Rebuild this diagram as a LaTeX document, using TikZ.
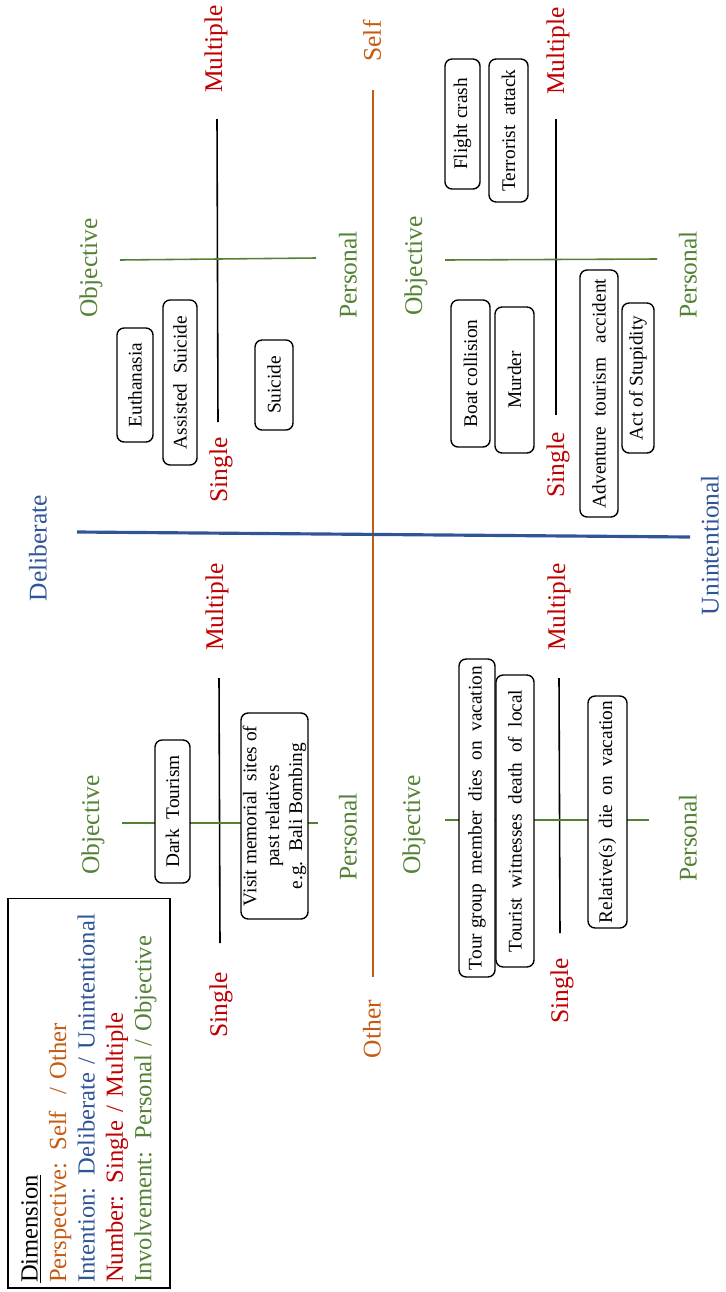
\documentclass[tikz,border=0pt]{standalone}
\usepackage{fontspec}
\setmainfont{Liberation Serif}
\usepackage{xcolor}
\usepackage{tikz}
\usetikzlibrary{positioning}
\definecolor{DimOrange}{RGB}{197, 90, 17}
\definecolor{DimBlue}{RGB}{47, 85, 151}
\definecolor{DimRed}{RGB}{192, 0, 0}
\definecolor{DimGreen}{RGB}{84, 130, 53}

\begin{document}
\begin{tikzpicture}[x=0.02cm, y=-0.02cm,
    axislabel/.style={rotate=90, inner sep=0pt, font=\fontsize{14.5}{16}\selectfont},
    numlabel/.style={axislabel, text=DimRed},
    invlabel/.style={axislabel, text=DimGreen},
    eventbox/.style={draw, fill=white, rounded corners=4pt, line width=0.8pt,
      rotate=90, inner sep=1pt, align=center, font=\fontsize{11}{13}\selectfont},
    numaxis/.style={line width=0.9pt, black},
    invaxis/.style={line width=0.9pt, DimGreen}]
    \useasboundingbox (0,0) rectangle (725,1292);

    % main axes
    \coordinate (selfend) at (373,90);
    \coordinate (otherend) at (373,977);
    \coordinate (delibend) at (77,532);
    \coordinate (unintend) at (690,537);
    \draw[DimOrange, line width=1.2pt] (selfend) -- (otherend);
    \draw[DimBlue, line width=1.8pt] (delibend) -- (unintend);
    \node[axislabel, text=DimOrange] (self) at (372,41) {Self};
    \node[axislabel, text=DimOrange] (other) at (372,1029) {Other};
    \node[axislabel, text=DimBlue] (delib) at (38,548) {Deliberate};
    \node[axislabel, text=DimBlue] (unint) at (710,545) {Unintentional};

    % self / deliberate
    \coordinate (tlmul) at (217,119);
    \coordinate (tlsin) at (218,422);
    \coordinate (tlobj) at (120,260);
    \coordinate (tlper) at (316,258);
    \draw[numaxis] (tlmul) -- (tlsin);
    \draw[invaxis] (tlobj) -- (tlper);
    \node[numlabel] (tlmultiple) at (216,49) {Multiple};
    \node[numlabel] (tlsingle) at (221,470) {Single};
    \node[invlabel] (tlobjective) at (91,268) {Objective};
    \node[invlabel] (tlpersonal) at (348,275) {Personal};
    \node[eventbox, minimum width=2.28cm, minimum height=0.72cm] (euth) at (135,385) {Euthanasia};
    \node[eventbox, minimum width=3.3cm, minimum height=0.68cm] (assist) at (180,382.5) {Assisted\ \ Suicide};
    \node[eventbox, minimum width=1.8cm, minimum height=0.76cm] (suic) at (274,385) {Suicide};

    % self / unintentional
    \coordinate (trmul) at (556,119);
    \coordinate (trsin) at (556,415);
    \coordinate (trobj) at (445,260);
    \coordinate (trper) at (657,259);
    \draw[numaxis] (trmul) -- (trsin);
    \draw[invaxis] (trobj) -- (trper);
    \node[numlabel] (trmultiple) at (558,51) {Multiple};
    \node[numlabel] (trsingle) at (558,465) {Single};
    \node[invlabel] (trobjective) at (416,266) {Objective};
    \node[invlabel] (trpersonal) at (688,275) {Personal};
    \node[eventbox, minimum width=2.6cm, minimum height=0.7cm] (flight) at (462.5,124) {Flight crash};
    \node[eventbox, minimum width=2.86cm, minimum height=0.78cm] (terror) at (508.5,130.5) {Terrorist\ \ attack};
    \node[eventbox, minimum width=2.94cm, minimum height=0.78cm] (boat) at (470.5,373.5) {Boat collision};
    \node[eventbox, minimum width=2.92cm, minimum height=0.78cm] (murder) at (514.5,380) {Murder};
    \node[eventbox, minimum width=4.94cm, minimum height=0.76cm] (advent) at (599,393.5) {Adventure\ \ tourism\ \ \ accident};
    \node[eventbox, minimum width=3.0cm, minimum height=0.64cm] (stupid) at (638,378) {Act of Stupidity};

    % other / deliberate
    \coordinate (blmul) at (219,678);
    \coordinate (blsin) at (220,943);
    \coordinate (blobj) at (122,823);
    \coordinate (blper) at (318,823);
    \draw[numaxis] (blmul) -- (blsin);
    \draw[invaxis] (blobj) -- (blper);
    \node[numlabel] (blmultiple) at (217,607) {Multiple};
    \node[numlabel] (blsingle) at (221,1005) {Single};
    \node[invlabel] (blobjective) at (93,825) {Objective};
    \node[invlabel] (blpersonal) at (348,837) {Personal};
    \node[eventbox, minimum width=2.86cm, minimum height=0.7cm] (dark) at (172.5,811.5) {Dark\ \ Tourism};
    \node[eventbox, minimum width=4.12cm, minimum height=1.34cm] (visit) at (274.5,816)
      {Visit memorial\ \ sites of\\past relatives\\e.g.\ \ Bali Bombing};

    % other / unintentional
    \coordinate (brmul) at (559,678);
    \coordinate (brsin) at (560,933);
    \coordinate (brobj) at (445,820);
    \coordinate (brper) at (649,820);
    \draw[numaxis] (brmul) -- (brsin);
    \draw[invaxis] (brobj) -- (brper);
    \node[numlabel] (brmultiple) at (559,607) {Multiple};
    \node[numlabel] (brsingle) at (562,991) {Single};
    \node[invlabel] (brobjective) at (414,825) {Objective};
    \node[invlabel] (brpersonal) at (688,838) {Personal};
    \node[eventbox, minimum width=6.36cm, minimum height=0.72cm] (tourgrp) at (477,818) {Tour group\ \ member\ \ dies\ \ on\ \ vacation};
    \node[eventbox, minimum width=5.84cm, minimum height=0.76cm] (witness) at (515,821) {Tourist\ \ witnesses\ \ death\ \ of\ \ local};
    \node[eventbox, minimum width=4.64cm, minimum height=0.78cm] (relat) at (607.5,812) {Relative(s)\ \ die\ \ on\ \ vacation};

    % legend
    \node[draw, line width=0.6pt, rotate=90, text width=7.6cm, inner xsep=0.1cm,
      minimum height=3.24cm, align=left, font=\fontsize{14}{16.2}\selectfont] (legend) at (89,1093) {
      \underline{Dimension}\\
      {\color{DimOrange}Perspective: Self\ \ / Other}\\
      {\color{DimBlue}Intention: Deliberate / Unintentional}\\
      {\color{DimRed}Number: Single / Multiple}\\
      {\color{DimGreen}Involvement: Personal / Objective}
    };
  \end{tikzpicture}
\end{document}
